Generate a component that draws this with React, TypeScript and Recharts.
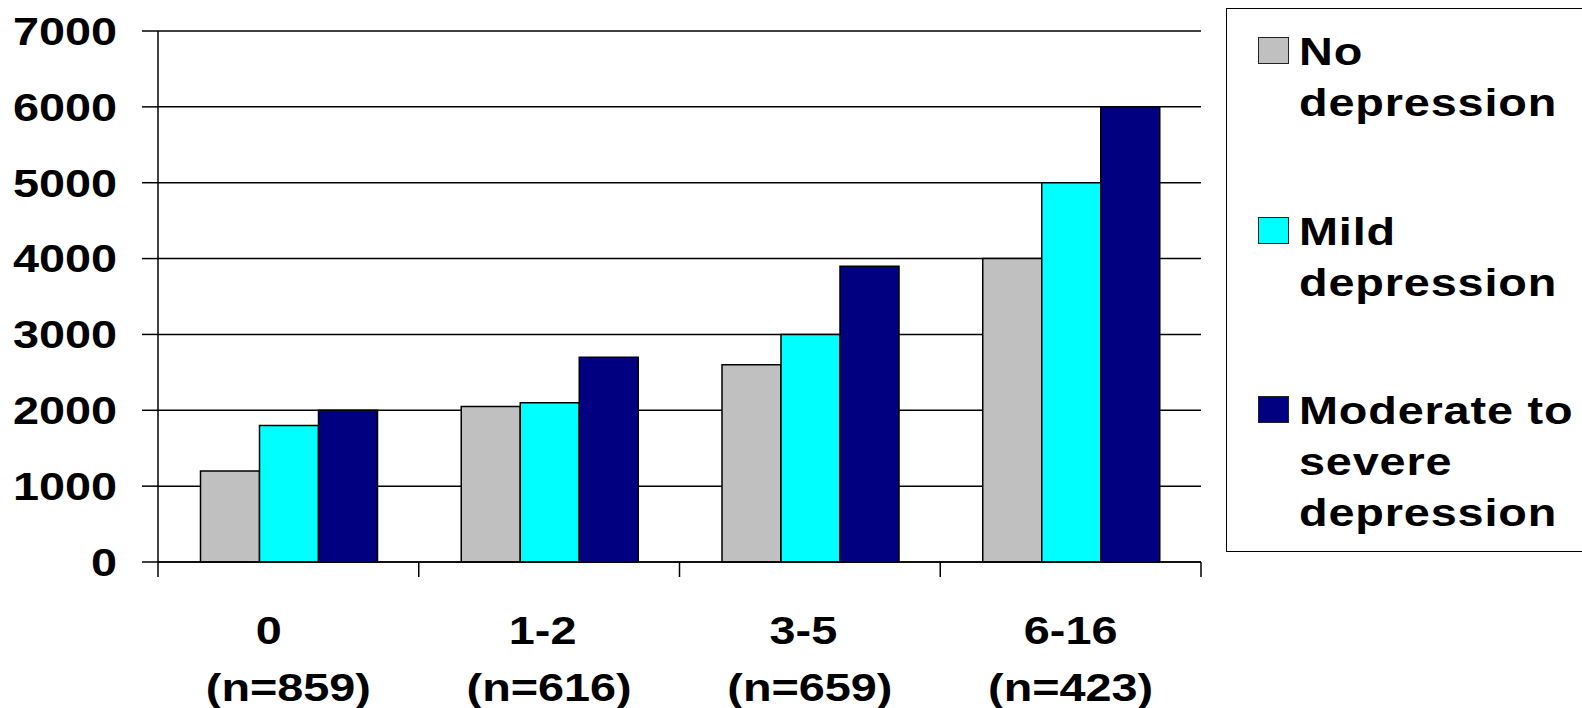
import React from 'react'
import { BarChart, Bar, XAxis, YAxis, CartesianGrid, Legend } from 'recharts'

// episode counts by number of chronic conditions
const categories = ['0\u00a0\u00a0\u00a0', '1-2\u00a0', '3-5\u00a0', '6-16']
const sampleSizes = ['(n=859)', '(n=616)', '(n=659)', '(n=423)']
const noDepression = [1200, 2050, 2600, 4000]
const mildDepression = [1800, 2100, 3000, 5000]
const severeDepression = [2000, 2700, 3900, 6000]
const yTicks = [0, 1000, 2000, 3000, 4000, 5000, 6000, 7000]

const series = [
  { key: 'none', lines: ['No', 'depression'], color: '#C0C0C0', values: noDepression },
  { key: 'mild', lines: ['Mild', 'depression'], color: '#00FFFF', values: mildDepression },
  { key: 'severe', lines: ['Moderate to', 'severe', 'depression'], color: '#000080', values: severeDepression },
]

const data = categories.map((cat, i) => {
  const row: Record<string, string | number> = { cat }
  series.forEach((s) => (row[s.key] = s.values[i]))
  return row
})

const WIDTH = 1582
const HEIGHT = 708
const MARGIN = { top: 31, right: 381, left: 0, bottom: 0 }
const Y_WIDTH = 158
const BAND = (WIDTH - MARGIN.right - Y_WIDTH) / categories.length
const STRETCH = 1.2

const font = {
  fontFamily: "'Liberation Sans', Arial, sans-serif",
  fontWeight: 700,
  fontSize: 39,
}

// wide bold text, stretched horizontally around its anchor
function WideText({ x, y, anchor, children, dy }: any) {
  return (
    <text
      transform={`translate(${x},${y}) scale(${STRETCH},1)`}
      dy={dy}
      textAnchor={anchor}
      fill="#000"
      style={font}
    >
      {children}
    </text>
  )
}

function ValueTick({ x, y, payload }: any) {
  return (
    <WideText x={x} y={y} dy="0.355em" anchor="end">
      {payload.value}
    </WideText>
  )
}

function CategoryTick({ x, y, payload, index }: any) {
  const half = payload?.offset || BAND / 2
  const last = index === categories.length - 1
  return (
    <g>
      <line x1={x - half} x2={x - half} y1={y} y2={y + 15} stroke="#000" strokeWidth={1.5} />
      {last && <line x1={x + half} x2={x + half} y1={y} y2={y + 15} stroke="#000" strokeWidth={1.5} />}
      <WideText x={x} y={y + 82} anchor="middle">
        {payload.value}
      </WideText>
      <WideText x={x} y={y + 139} anchor="middle">
        {sampleSizes[index]}
      </WideText>
    </g>
  )
}

function LegendBox() {
  return (
    <div
      style={{
        ...font,
        width: 370,
        boxSizing: 'border-box',
        border: '1.5px solid #000',
        padding: '17px 0 13px 31px',
        background: '#fff',
        lineHeight: '51px',
        letterSpacing: '0.7px',
        color: '#000',
      }}
    >
      {series.map((s, i) => (
        <div key={s.key} style={{ display: 'flex', marginBottom: i < series.length - 1 ? 77.5 : 0 }}>
          <div
            style={{
              width: 31,
              height: 27,
              marginTop: 11,
              marginRight: 10,
              flex: 'none',
              boxSizing: 'border-box',
              background: s.color,
              border: '1.5px solid #222',
            }}
          />
          <div>
            {s.lines.map((line) => (
              <div key={line} style={{ whiteSpace: 'nowrap' }}>
                <span style={{ display: 'inline-block', transform: `scaleX(${STRETCH})`, transformOrigin: 'left center' }}>
                  {line}
                </span>
              </div>
            ))}
          </div>
        </div>
      ))}
    </div>
  )
}

export default function App() {
  return (
    <div style={{ position: 'absolute', left: 0, top: 0, width: WIDTH, height: HEIGHT, overflow: 'hidden', background: '#fff' }}>
      <BarChart
        width={WIDTH}
        height={HEIGHT}
        data={data}
        margin={MARGIN}
        barCategoryGap="16.3%"
        barGap={0}
      >
        <CartesianGrid vertical={false} stroke="#000" strokeWidth={1.5} />
        <XAxis
          dataKey="cat"
          height={146}
          interval={0}
          tickLine={false}
          tickSize={0}
          tickMargin={0}
          axisLine={{ stroke: '#000', strokeWidth: 1.5 }}
          tick={<CategoryTick />}
        />
        <YAxis
          width={Y_WIDTH}
          domain={[0, 7000]}
          ticks={yTicks}
          interval={0}
          tickSize={16}
          tickMargin={25}
          tickLine={{ stroke: '#000', strokeWidth: 1.5 }}
          axisLine={{ stroke: '#000', strokeWidth: 1.5 }}
          tick={<ValueTick />}
        />
        <Legend
          layout="vertical"
          align="center"
          verticalAlign="middle"
          wrapperStyle={{ left: 1226, top: 8, width: 370 }}
          content={<LegendBox />}
        />
        {series.map((s) => (
          <Bar
            key={s.key}
            dataKey={s.key}
            fill={s.color}
            stroke="#000"
            strokeWidth={1.5}
            isAnimationActive={false}
          />
        ))}
      </BarChart>
    </div>
  )
}
